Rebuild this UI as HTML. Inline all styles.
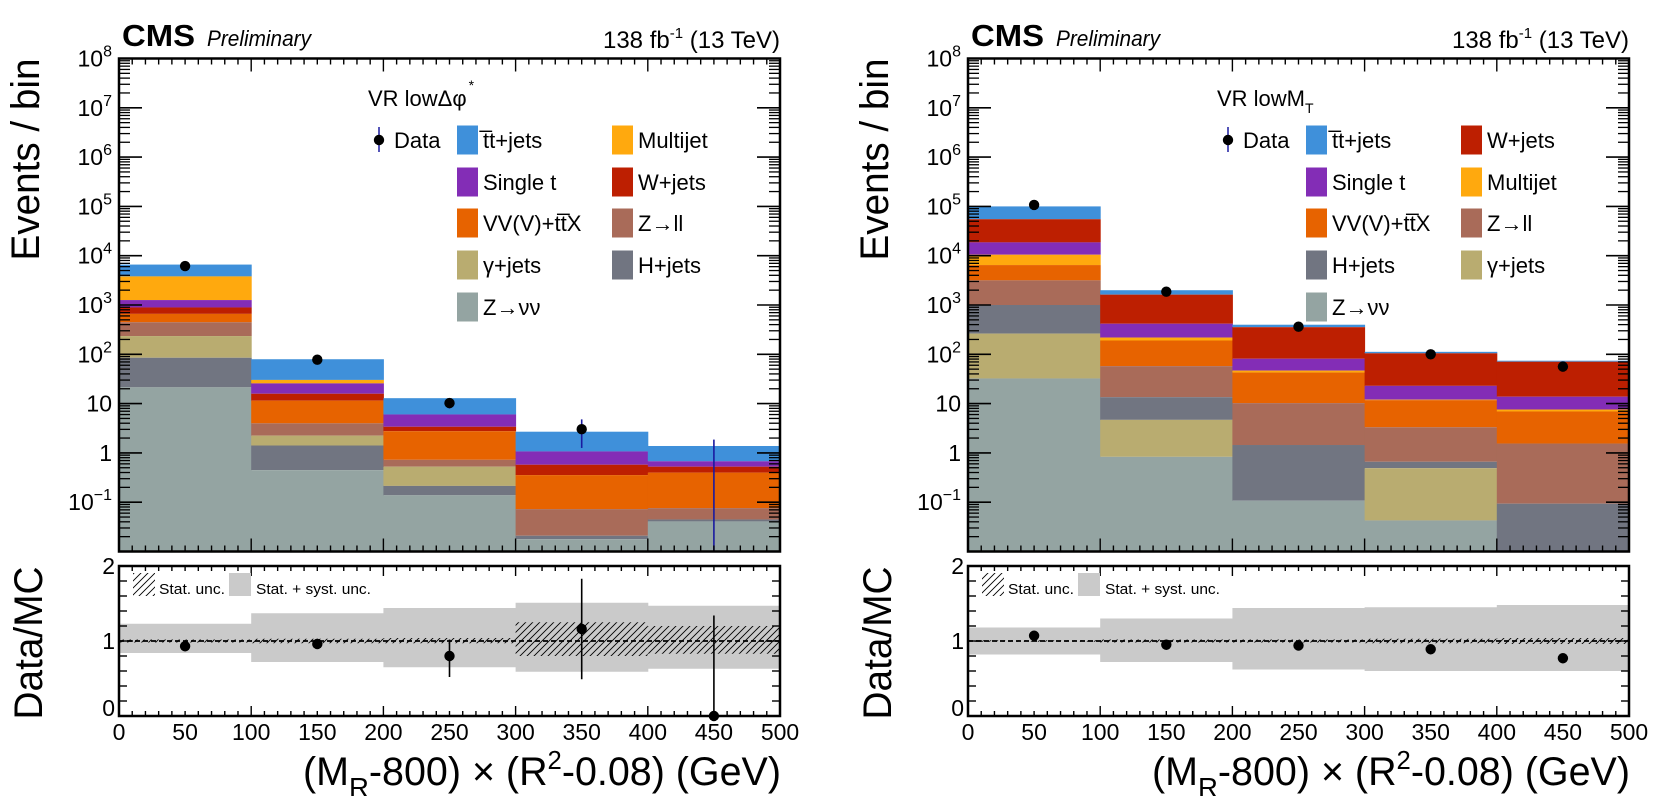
<!DOCTYPE html>
<html><head><meta charset="utf-8"><style>
html,body{margin:0;padding:0;background:#fff;}
svg{display:block;font-family:"Liberation Sans",Arial,sans-serif;}
</style></head><body>
<svg id="s" width="1654" height="796" viewBox="0 0 1654 796" xmlns="http://www.w3.org/2000/svg">
<defs>
<pattern id="hatch" patternUnits="userSpaceOnUse" width="7" height="7" patternTransform="rotate(0)">
<path d="M-1,8 L8,-1 M-1,1 L1,-1 M6,8 L8,6" stroke="#000" stroke-width="0.9"/>
</pattern>
</defs>
</svg>
<script>
var S=document.getElementById('s');
var NS='http://www.w3.org/2000/svg';
function el(t,a,txt){var e=document.createElementNS(NS,t);for(var k in a)e.setAttribute(k,a[k]);if(txt!==undefined)e.textContent=txt;S.appendChild(e);return e;}
var C={tt:'#3f90da',mj:'#ffa90e',st:'#832db6',w:'#bd1f01',vv:'#e76300',zll:'#a96b59',g:'#b9ac70',h:'#717581',znn:'#94a4a2'};
var TOP=58.5,DEC=49.3,BOT=551.5,W=661,BW=W/5;
function Y(l){return TOP+(8-l)*DEC;}
var RT=566,RB=716;function RY(v){return RB-v*75;}
function panel(ox,order,stacks,data,derr,ratio,bands,hatch,legend,title,titleSub){
  for(var b=0;b<5;b++){
    var s=stacks[b],x=ox+b*BW;
    for(var i=0;i<order.length;i++){
      var top=Y(s[i]);var bot=(i+1<s.length)?Y(s[i+1]):BOT;
      if(i==order.length-1)bot=BOT;
      if(top>BOT)continue;if(bot>BOT)bot=BOT;
      if(bot-top>0.1)el('rect',{x:x,y:top,width:BW+0.5,height:bot-top,fill:C[order[i]]});
    }
  }
  for(var b=0;b<5;b++){
    var cx=ox+(b+0.5)*BW;
    if(derr[b]){el('line',{x1:cx,x2:cx,y1:Y(derr[b][0]),y2:Math.min(BOT,Y(derr[b][1])),stroke:'#1a1aa0','stroke-width':1.6});}
    if(data[b]!==null)el('circle',{cx:cx,cy:Y(data[b]),r:5.2,fill:'#000'});
  }
  el('rect',{x:ox,y:TOP,width:W,height:BOT-TOP,fill:'none',stroke:'#000','stroke-width':2.5});
  for(var d=-2;d<=8;d++){
    var y=Y(d);
    if(d>-2&&d<8){el('line',{x1:ox,x2:ox+23,y1:y,y2:y,stroke:'#000','stroke-width':1.6});el('line',{x1:ox+W-23,x2:ox+W,y1:y,y2:y,stroke:'#000','stroke-width':1.6});}
    if(d<8)for(var m=2;m<=9;m++){var yy=Y(d+Math.log10(m));el('line',{x1:ox,x2:ox+11,y1:yy,y2:yy,stroke:'#000','stroke-width':1.3});el('line',{x1:ox+W-11,x2:ox+W,y1:yy,y2:yy,stroke:'#000','stroke-width':1.3});}
    if(d>=-1){
      var t;
      if(d==1){t=el('text',{x:ox-7,y:y+8,'font-size':23,'text-anchor':'end'},'10');}
      else if(d==0){t=el('text',{x:ox-7,y:y+8,'font-size':23,'text-anchor':'end'},'1');}
      else{t=el('text',{x:ox-7,y:y+8,'font-size':23,'text-anchor':'end'});
        var a=document.createElementNS(NS,'tspan');a.textContent='10';t.appendChild(a);
        var c=document.createElementNS(NS,'tspan');c.setAttribute('dy',-10);c.setAttribute('font-size',16);c.textContent=(d==-1?'\u22121':d);t.appendChild(c);}
    }
  }
  for(var k=0;k<=50;k++){
    var x=ox+k*W/50,maj=(k%10==0);
    if(k==0||k==50)continue;
    var L=maj?13:6;
    el('line',{x1:x,x2:x,y1:TOP,y2:TOP+L,stroke:'#000','stroke-width':1.4});
    el('line',{x1:x,x2:x,y1:BOT-L,y2:BOT,stroke:'#000','stroke-width':1.4});
    var L2=maj?10:5;
    el('line',{x1:x,x2:x,y1:RT,y2:RT+L2,stroke:'#000','stroke-width':1.4});
    el('line',{x1:x,x2:x,y1:RB-L2,y2:RB,stroke:'#000','stroke-width':1.4});
  }
  el('text',{x:ox+3,y:46,'font-size':31,'font-weight':'bold',textLength:73,lengthAdjust:'spacingAndGlyphs'},'CMS');
  el('text',{x:ox+88,y:46,'font-size':22,'font-style':'italic',textLength:104,lengthAdjust:'spacingAndGlyphs'},'Preliminary');
  var lt=el('text',{x:ox+W,y:48,'font-size':24,'text-anchor':'end'});
  var p1=document.createElementNS(NS,'tspan');p1.textContent='138 fb';lt.appendChild(p1);
  var p2=document.createElementNS(NS,'tspan');p2.setAttribute('dy',-10);p2.setAttribute('font-size',15);p2.textContent='-1';lt.appendChild(p2);
  var p3=document.createElementNS(NS,'tspan');p3.setAttribute('dy',10);p3.textContent=' (13 TeV)';lt.appendChild(p3);
  var tt=el('text',{x:ox+249,y:106,'font-size':22});
  var q=document.createElementNS(NS,'tspan');q.textContent=title;tt.appendChild(q);
  var q2=document.createElementNS(NS,'tspan');q2.setAttribute('font-size',14);
  if(titleSub=='T'){q2.setAttribute('dy',7);q2.textContent='T';}else{q2.setAttribute('dy',-16);q2.setAttribute('dx',2);q2.textContent='*';}
  tt.appendChild(q2);
  var rows=[140,182,223,265,307];
  el('line',{x1:ox+260,x2:ox+260,y1:127,y2:152,stroke:'#1a1aa0','stroke-width':1.5});
  el('circle',{cx:ox+260,cy:140,r:5.2,fill:'#000'});
  el('text',{x:ox+275,y:148,'font-size':22},'Data');
  for(var i=0;i<legend.length;i++){
    var col=legend[i][0],r=legend[i][1],key=legend[i][2],lab=legend[i][3];
    var bx=ox+(col==0?338:493);
    el('rect',{x:bx,y:rows[r]-14.5,width:21,height:29,fill:C[key]});
    el('text',{x:bx+26,y:rows[r]+8,'font-size':22},lab);
  }
  for(var b=0;b<5;b++){
    var x=ox+b*BW;
    el('rect',{x:x,y:RY(bands[b][1]),width:BW+0.5,height:RY(bands[b][0])-RY(bands[b][1]),fill:'#cacaca'});
    if(hatch[b][1]-hatch[b][0]>0.01)el('rect',{x:x,y:RY(hatch[b][1]),width:BW,height:RY(hatch[b][0])-RY(hatch[b][1]),fill:'url(#hatch)'});
  }
  el('line',{x1:ox,x2:ox+W,y1:RY(1),y2:RY(1),stroke:'#000','stroke-width':1.8,'stroke-dasharray':'5,3'});
  for(var b=0;b<5;b++){
    var cx=ox+(b+0.5)*BW;
    if(ratio[b][1]!=null)el('line',{x1:cx,x2:cx,y1:RY(ratio[b][1]),y2:RY(ratio[b][2]),stroke:'#000','stroke-width':1.6});
    el('circle',{cx:cx,cy:RY(ratio[b][0]),r:5.2,fill:'#000'});
  }
  el('rect',{x:ox,y:RT,width:W,height:RB-RT,fill:'none',stroke:'#000','stroke-width':2.5});
  for(var v=0.2;v<2;v+=0.2){var y=RY(v);var L=(Math.abs(v-1)<0.01)?14:8;
    el('line',{x1:ox,x2:ox+L,y1:y,y2:y,stroke:'#000','stroke-width':1.4});el('line',{x1:ox+W-L,x2:ox+W,y1:y,y2:y,stroke:'#000','stroke-width':1.4});}
  ['0','1','2'].forEach(function(s,i){el('text',{x:ox-4,y:RY(i)+(i==0?0:8),'font-size':23,'text-anchor':'end'},s);});
  for(var k=0;k<=10;k++){el('text',{x:ox+k*W/10,y:740,'font-size':23,'text-anchor':'middle'},String(k*50));}
  el('rect',{x:ox+14,y:573,width:22,height:23,fill:'url(#hatch)'});
  el('text',{x:ox+40,y:594,'font-size':15,textLength:66,lengthAdjust:'spacingAndGlyphs'},'Stat. unc.');
  el('rect',{x:ox+110,y:573,width:22,height:23,fill:'#cacaca'});
  el('text',{x:ox+137,y:594,'font-size':15,textLength:115,lengthAdjust:'spacingAndGlyphs'},'Stat. + syst. unc.');
  el('text',{x:0,y:0,'font-size':40,'text-anchor':'end',transform:'translate('+(ox-80)+','+TOP+') rotate(-90)',textLength:202,lengthAdjust:'spacingAndGlyphs'},'Events / bin');
  el('text',{x:0,y:0,'font-size':40,'text-anchor':'middle',transform:'translate('+(ox-77)+',643) rotate(-90)',textLength:153,lengthAdjust:'spacingAndGlyphs'},'Data/MC');
  var xt=el('text',{x:ox+W+1,y:785,'font-size':40,'text-anchor':'end',textLength:478,lengthAdjust:'spacingAndGlyphs'});
  var parts=[['(M',0,null],['R',12,28],['-800) \u00d7 (R',-12,null],['2',-16,26],['-0.08) (GeV)',16,null]];
  parts.forEach(function(p){var t=document.createElementNS(NS,'tspan');t.textContent=p[0];if(p[1])t.setAttribute('dy',p[1]);if(p[2])t.setAttribute('font-size',p[2]);xt.appendChild(t);});
}
panel(119,['tt','mj','st','w','vv','zll','g','h','znn'],
 [[3.82,3.58,3.10,2.95,2.82,2.65,2.37,1.93,1.33],
  [1.90,1.48,1.41,1.20,1.06,0.60,0.35,0.15,-0.35],
  [1.11,0.78,0.78,0.53,0.44,-0.14,-0.28,-0.67,-0.86],
  [0.43,0.03,0.03,-0.24,-0.45,-1.14,-1.68,-1.68,-1.75],
  [0.14,-0.17,-0.17,-0.28,-0.40,-1.12,-1.35,-1.35,-1.39]],
 [3.79,1.89,1.01,0.48,null],
 [[3.83,3.75],[1.93,1.85],[1.11,0.90],[0.68,0.10],[0.27,-3]],
 [[0.93,null],[0.96,0.90,1.03],[0.80,0.52,1.02],[1.16,0.49,1.83],[0,0,1.34]],
 [[0.84,1.23],[0.72,1.37],[0.65,1.44],[0.59,1.51],[0.63,1.47]],
 [[0.98,1.02],[0.97,1.03],[0.97,1.04],[0.80,1.25],[0.83,1.2]],
 [[0,0,'tt','t\u0305t+jets'],[1,0,'mj','Multijet'],[0,1,'st','Single t'],[1,1,'w','W+jets'],[0,2,'vv','VV(V)+tt\u0305X'],[1,2,'zll','Z\u2192ll'],[0,3,'g','\u03b3+jets'],[1,3,'h','H+jets'],[0,4,'znn','Z\u2192\u03bd\u03bd']],
 'VR low\u0394\u03c6','*');
panel(968,['tt','w','st','mj','vv','zll','h','g','znn'],
 [[5.0,4.74,4.27,4.02,3.81,3.50,3.0,2.42,1.51],
  [3.30,3.21,2.62,2.34,2.28,1.76,1.13,0.67,-0.08],
  [2.60,2.55,1.91,1.67,1.63,1.01,0.16,-0.97,-0.97],
  [2.05,2.02,1.36,1.08,1.07,0.52,-0.18,-0.31,-1.37],
  [1.87,1.85,1.14,0.88,0.84,0.19,-1.03,-3,-3]],
 [5.03,3.27,2.56,2.0,1.75],
 [null,null,null,null,null],
 [[1.07,null],[0.95,null],[0.94,null],[0.89,0.85,0.93],[0.77,0.72,0.82]],
 [[0.82,1.18],[0.72,1.30],[0.62,1.44],[0.60,1.45],[0.60,1.48]],
 [[0.99,1.01],[0.98,1.02],[0.98,1.02],[0.97,1.03],[0.96,1.04]],
 [[0,0,'tt','t\u0305t+jets'],[1,0,'w','W+jets'],[0,1,'st','Single t'],[1,1,'mj','Multijet'],[0,2,'vv','VV(V)+tt\u0305X'],[1,2,'zll','Z\u2192ll'],[0,3,'h','H+jets'],[1,3,'g','\u03b3+jets'],[0,4,'znn','Z\u2192\u03bd\u03bd']],
 'VR lowM','T');
</script>
</body></html>
